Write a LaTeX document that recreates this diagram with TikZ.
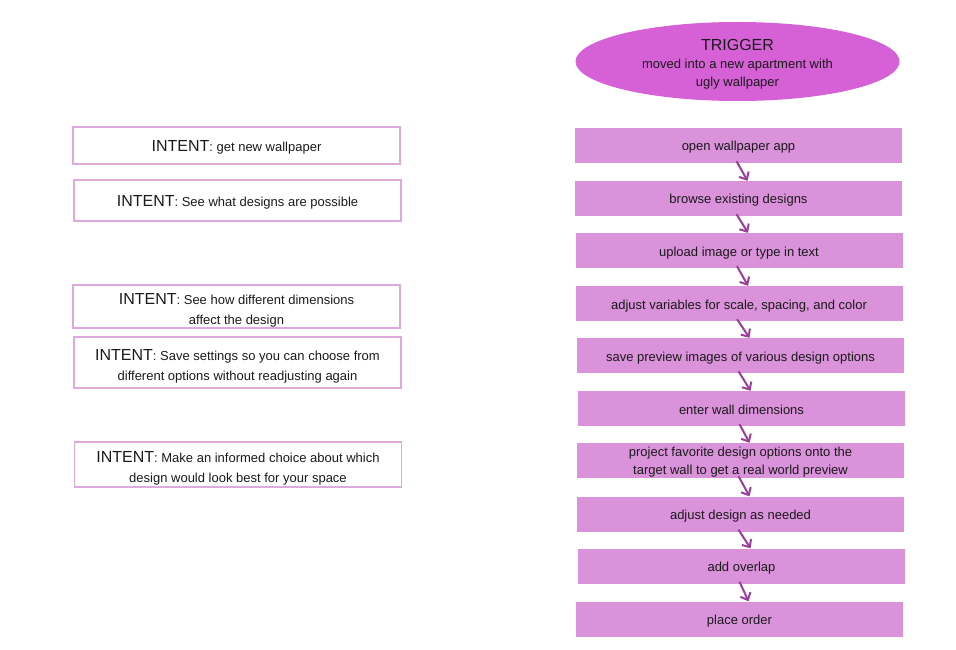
\documentclass[tikz,border=0pt]{standalone}
\usepackage{fontspec}
\setmainfont{Liberation Sans}
\usepackage{tikz}
\usetikzlibrary{positioning, shapes.geometric, arrows.meta}

\definecolor{stepfill}{HTML}{DA92DA}
\definecolor{trigfill}{HTML}{D660D6}
\definecolor{intentdraw}{HTML}{DEAADE}
\definecolor{arrowcol}{HTML}{9B3D9B}
\definecolor{inkcol}{HTML}{1A1A1A}

% invisible strut that pushes a text block down
\newcommand{\lift}[1]{\rule{0pt}{#1}}
\newcommand{\intent}{{\fontsize{16}{20}\selectfont INTENT}}

\begin{document}
\begin{tikzpicture}[
    x=1pt, y=-1pt,
    stepbox/.style={rectangle, fill=stepfill, minimum width=327pt, minimum height=35pt,
                inner sep=0pt, font=\fontsize{13}{18}\selectfont, align=center, text=inkcol,
                text height=12pt, text depth=1pt},
    intentbox/.style={rectangle, draw=intentdraw, line width=1.8pt, minimum width=327pt,
                minimum height=#1, inner sep=0pt, font=\fontsize{13}{20}\selectfont,
                align=center, text=inkcol},
    oneline/.style={text height=13pt, text depth=1pt},
    trigger/.style={ellipse, fill=trigfill, minimum width=324pt, minimum height=79pt,
                inner sep=0pt, align=center, text=inkcol, font=\fontsize{13}{18}\selectfont},
    arr/.style={-{Straight Barb[length=6pt, width=11pt]}, line width=2pt, arrowcol},
]
\useasboundingbox (0,0) rectangle (956,650);

% Trigger
\node[trigger] (trig) at (737.5, 61.5)
    {\lift{17pt}{\fontsize{16}{18}\selectfont TRIGGER}\\
     moved into a new apartment with\\
     ugly wallpaper};

% Steps
\node[stepbox] (s1)  at (738.5, 145.5) {open wallpaper app};
\node[stepbox] (s2)  at (738.5, 198.5) {browse existing designs};
\node[stepbox] (s3)  at (739.0, 250.5) {upload image or type in text};
\node[stepbox] (s4)  at (739.0, 303.5) {adjust variables for scale, spacing, and color};
\node[stepbox] (s5)  at (740.5, 355.5) {save preview images of various design options};
\node[stepbox] (s6)  at (741.5, 408.5) {enter wall dimensions};
\node[stepbox, text height=, text depth=] (s7) at (740.5, 460.5)
    {\lift{13.5pt}project favorite design options onto the\\target wall to get a real world preview};
\node[stepbox] (s8)  at (740.5, 514.0) {adjust design as needed};
\node[stepbox] (s9)  at (741.5, 566.0) {add overlap};
\node[stepbox] (s10) at (739.5, 619.0) {place order};

% Intents
\node[intentbox=37pt, oneline] (i1) at (236.5, 145.5) {\intent: get new wallpaper};
\node[intentbox=41pt, oneline] (i2) at (237.5, 200.5) {\intent: See what designs are possible};
\node[intentbox=43pt] (i3) at (236.5, 306.5)
    {\lift{18pt}\intent: See how different dimensions\\affect the design};
\node[intentbox=51pt] (i4) at (237.5, 362.5)
    {\lift{19pt}\intent: Save settings so you can choose from\\different options without readjusting again};
\node[intentbox=45pt] (i5) at (238.0, 464.5)
    {\lift{18.5pt}\intent: Make an informed choice about which\\design would look best for your space};

% Arrows between steps
\foreach \a/\b in {s1/s2, s2/s3, s3/s4, s4/s5, s5/s6, s6/s7, s7/s8, s8/s9, s9/s10} {
    \draw[arr] ([xshift=-2pt, yshift=2pt]\a.south) -- ([xshift=9pt]\b.north);
}

\end{tikzpicture}
\end{document}
